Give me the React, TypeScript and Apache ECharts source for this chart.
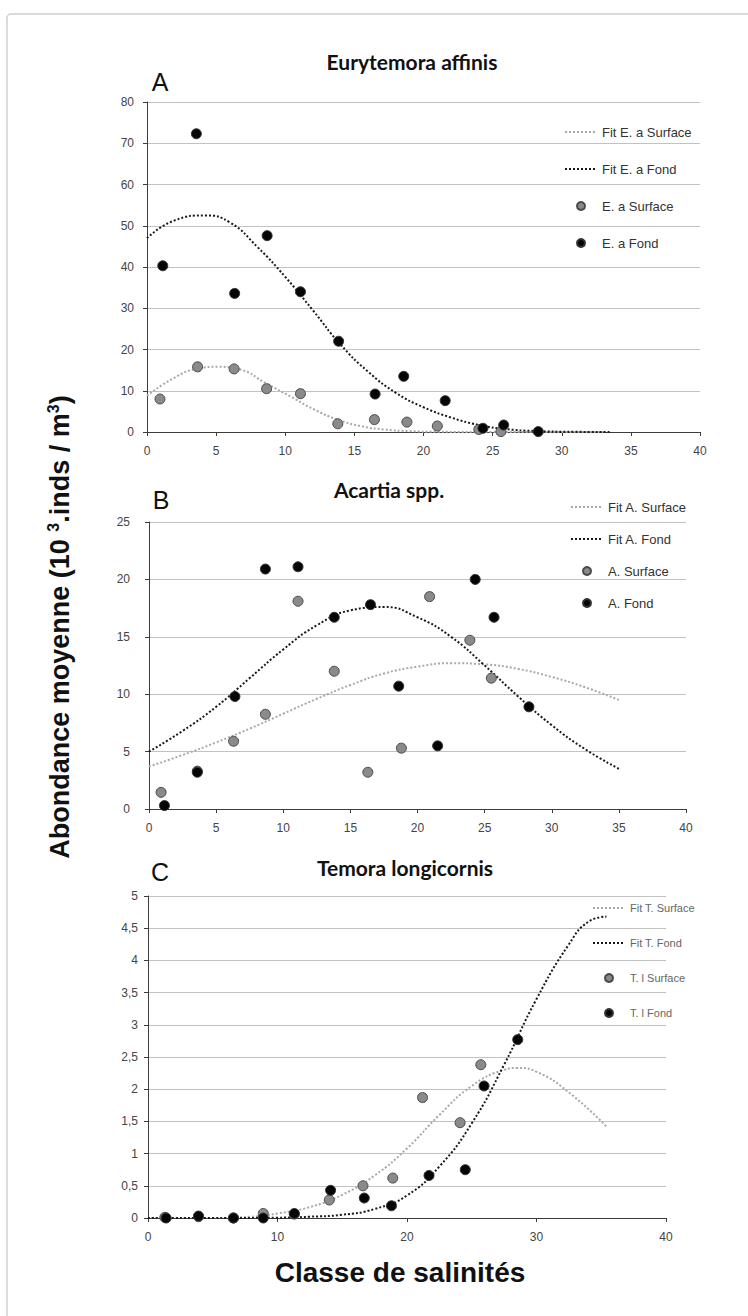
import React, { useEffect, useRef } from "react";
import * as echarts from "echarts";

// ---- Panel A : Eurytemora affinis ----
const salA_surf = [0.94, 3.66, 6.3, 8.65, 11.1, 13.8, 16.45, 18.8, 21.0, 24.0, 25.6];
const abA_surf = [8.0, 15.8, 15.3, 10.5, 9.3, 2.0, 3.0, 2.4, 1.45, 0.6, 0.1];
const salA_fond = [1.14, 3.57, 6.34, 8.69, 11.1, 13.86, 16.5, 18.57, 21.57, 24.3, 25.8, 28.3];
const abA_fond = [40.3, 72.3, 33.6, 47.6, 34.0, 22.0, 9.2, 13.5, 7.6, 0.9, 1.7, 0.1];
const fitA_surf_x = [0, 2, 3.6, 5.2, 6.7, 8.6, 10.5, 12, 13.8, 15.5, 17.2, 19, 21, 25, 30, 33];
const fitA_surf_y = [8.8, 13.2, 15.3, 15.8, 15.2, 11.8, 8.4, 5.6, 3.0, 1.4, 0.6, 0.2, 0.05, 0, 0, 0];
const fitA_fond_x = [0, 2, 4.2, 6, 8, 10, 12, 14, 16, 18, 20, 22, 24, 26, 28, 30.9, 33.5];
const fitA_fond_y = [47.0, 51.3, 52.5, 50.8, 44.8, 37.6, 29.5, 21.2, 14.6, 9.5, 6.0, 3.5, 1.7, 0.7, 0.25, 0.05, 0];

// ---- Panel B : Acartia spp. ----
const salB_surf = [0.9, 3.6, 6.3, 8.67, 11.1, 13.8, 16.3, 18.8, 20.9, 23.9, 25.5];
const abB_surf = [1.45, 3.3, 5.9, 8.25, 18.1, 12.0, 3.2, 5.3, 18.5, 14.7, 11.4];
const salB_fond = [1.15, 3.6, 6.4, 8.67, 11.1, 13.8, 16.5, 18.6, 21.5, 24.3, 25.7, 28.3];
const abB_fond = [0.3, 3.2, 9.8, 20.9, 21.1, 16.7, 17.8, 10.7, 5.5, 20.0, 16.7, 8.9];
const fitB_x = [0, 2.5, 5, 7.5, 10, 12.5, 15, 17.5, 20, 22.5, 25, 27.5, 30, 32.5, 35];
const fitB_surf_y = [3.7, 4.7, 5.8, 7.0, 8.3, 9.6, 10.8, 11.8, 12.4, 12.7, 12.6, 12.2, 11.5, 10.6, 9.5];
const fitB_fond_y = [5.0, 6.8, 8.9, 11.4, 13.9, 16.0, 17.3, 17.6, 16.7, 15.0, 12.5, 9.8, 7.3, 5.2, 3.5];

// ---- Panel C : Temora longicornis ----
const salC_surf = [1.3, 3.9, 6.6, 8.9, 11.3, 14.0, 16.6, 18.9, 21.2, 24.1, 25.7];
const abC_surf = [0.01, 0.02, 0.0, 0.07, 0.06, 0.28, 0.5, 0.62, 1.87, 1.48, 2.38];
const salC_fond = [1.4, 3.9, 6.6, 8.9, 11.3, 14.1, 16.7, 18.8, 21.7, 24.5, 25.95, 28.55];
const abC_fond = [0.0, 0.03, 0.0, 0.0, 0.07, 0.43, 0.31, 0.19, 0.66, 0.75, 2.05, 2.77];
const fitC_surf_x = [0, 5, 8, 10, 12.5, 15, 17.5, 20, 22.5, 25, 27.5, 28.5, 30, 32.5, 35.4];
const fitC_surf_y = [0, 0, 0.02, 0.07, 0.17, 0.36, 0.66, 1.08, 1.6, 2.05, 2.3, 2.33, 2.27, 1.95, 1.42];
const fitC_fond_x = [0, 5, 10, 12.5, 15, 17.5, 20, 22.5, 25, 27.5, 30, 32.5, 34, 35.4];
const fitC_fond_y = [0, 0, 0.005, 0.02, 0.05, 0.14, 0.35, 0.8, 1.47, 2.38, 3.4, 4.25, 4.6, 4.68];

const panelTitles = ["Eurytemora affinis", "Acartia spp.", "Temora longicornis"];
const panelLetters = ["A", "B", "C"];
const legendNames = [
  ["Fit E. a Surface", "Fit E. a Fond", "E. a Surface", "E. a Fond"],
  ["Fit A. Surface", "Fit A. Fond", "A. Surface", "A. Fond"],
  ["Fit T. Surface", "Fit T. Fond", "T. l Surface", "T. l Fond"],
];

const FONT = '"Liberation Sans", Arial, sans-serif';
const TITLE_FONT = 'Lato, "Open Sans", sans-serif';

const zip = (xs: number[], ys: number[]) => xs.map((x, i) => [x, ys[i]]);

const fitLine = (name: string, idx: number, xs: number[], ys: number[], color: string) => ({
  name,
  type: "line",
  xAxisIndex: idx,
  yAxisIndex: idx,
  data: zip(xs, ys),
  smooth: 0.5,
  symbol: "none",
  lineStyle: { color, width: 2, type: "dotted" },
  itemStyle: { color },
  z: 2,
});

const dots = (name: string, idx: number, xs: number[], ys: number[], fill: string, border: string) => ({
  name,
  type: "scatter",
  xAxisIndex: idx,
  yAxisIndex: idx,
  data: zip(xs, ys),
  symbol: "circle",
  symbolSize: 10,
  itemStyle: { color: fill, borderColor: border, borderWidth: 1, opacity: 1 },
  z: 3,
});

const GREY_FIT = "#a9a9a9";
const BLACK_FIT = "#1a1a1a";
const SURF_FILL = "#8a8a8a";
const SURF_EDGE = "#4a4a4a";
const FOND_FILL = "#050505";
const FOND_EDGE = "#333333";

const grids = [
  { left: 147, right: 48, top: 102, bottom: 884 },
  { left: 149, right: 62, top: 522, bottom: 507 },
  { left: 148, right: 82, top: 896, bottom: 98 },
];

const xIntervals = [5, 5, 10];
const yRanges = [
  { max: 80, interval: 10, margin: 13 },
  { max: 25, interval: 5, margin: 19 },
  { max: 5, interval: 0.5, margin: 10 },
];

const axisLineStyle = { color: "#3c3c3c", width: 1 };

const xAxes = xIntervals.map((interval, i) => ({
  type: "value",
  gridIndex: i,
  min: 0,
  max: 40,
  interval,
  axisLine: { show: true, lineStyle: axisLineStyle },
  axisTick: { show: true, length: 4, lineStyle: axisLineStyle },
  axisLabel: { color: "#444", fontSize: 12, fontFamily: FONT, margin: 13 },
  splitLine: { show: false },
}));

const yAxes = yRanges.map((r, i) => ({
  type: "value",
  gridIndex: i,
  min: 0,
  max: r.max,
  interval: r.interval,
  axisLine: { show: true, lineStyle: axisLineStyle },
  axisTick: { show: true, length: 4, lineStyle: axisLineStyle },
  axisLabel: {
    color: "#444",
    fontSize: 12,
    fontFamily: FONT,
    margin: r.margin,
    formatter: (v: number) => String(v).replace(".", ","),
  },
  splitLine: { show: true, lineStyle: { color: "#c2c2c2", width: 1 } },
}));

const legendLayout = [
  { left: 564, top: 125, gap: 23, fontSize: 13, lineHeight: 14, color: "#333" },
  { left: 570, top: 500, gap: 18, fontSize: 13, lineHeight: 14, color: "#333" },
  { left: 592, top: 902, gap: 23, fontSize: 11, lineHeight: 12, color: "#666" },
];

// Fit entries show only their dotted line in the legend (no centre marker)
const hiddenMarker = { color: "rgba(0,0,0,0)", borderColor: "rgba(0,0,0,0)", borderWidth: 0 };

const legends = legendNames.map((names, i) => ({
  data: names.map((n, k) => (k < 2 ? { name: n, itemStyle: hiddenMarker } : { name: n })),
  orient: "vertical",
  left: legendLayout[i].left,
  top: legendLayout[i].top,
  padding: 0,
  itemWidth: 32,
  itemHeight: 8,
  itemGap: legendLayout[i].gap,
  selectedMode: false,
  textStyle: {
    fontSize: legendLayout[i].fontSize,
    lineHeight: legendLayout[i].lineHeight,
    color: legendLayout[i].color,
    fontFamily: FONT,
  },
}));

const series = [
  fitLine(legendNames[0][0], 0, fitA_surf_x, fitA_surf_y, GREY_FIT),
  fitLine(legendNames[0][1], 0, fitA_fond_x, fitA_fond_y, BLACK_FIT),
  dots(legendNames[0][2], 0, salA_surf, abA_surf, SURF_FILL, SURF_EDGE),
  dots(legendNames[0][3], 0, salA_fond, abA_fond, FOND_FILL, FOND_EDGE),
  fitLine(legendNames[1][0], 1, fitB_x, fitB_surf_y, GREY_FIT),
  fitLine(legendNames[1][1], 1, fitB_x, fitB_fond_y, BLACK_FIT),
  dots(legendNames[1][2], 1, salB_surf, abB_surf, SURF_FILL, SURF_EDGE),
  dots(legendNames[1][3], 1, salB_fond, abB_fond, FOND_FILL, FOND_EDGE),
  fitLine(legendNames[2][0], 2, fitC_surf_x, fitC_surf_y, GREY_FIT),
  fitLine(legendNames[2][1], 2, fitC_fond_x, fitC_fond_y, BLACK_FIT),
  dots(legendNames[2][2], 2, salC_surf, abC_surf, SURF_FILL, SURF_EDGE),
  dots(legendNames[2][3], 2, salC_fond, abC_fond, FOND_FILL, FOND_EDGE),
];

// Title and letter placement for each panel
const titlePos = [
  { x: 412, y: 61 },
  { x: 389, y: 489 },
  { x: 405, y: 867 },
];
const letterPos = [
  { x: 160, y: 82 },
  { x: 161, y: 500 },
  { x: 160, y: 872 },
];

const graphics: any[] = [
  {
    type: "rect",
    shape: { x: 7, y: 14, width: 760, height: 1330, r: 4 },
    style: { fill: "none", stroke: "#cfcfcf", lineWidth: 1.5 },
    silent: true,
    z: -1,
  },
  ...panelTitles.map((t, i) => ({
    type: "text",
    x: titlePos[i].x,
    y: titlePos[i].y,
    style: {
      text: t,
      fontFamily: TITLE_FONT,
      fontWeight: "bold",
      fontSize: 21,
      fill: "#111",
      align: "center",
      verticalAlign: "middle",
    },
  })),
  ...panelLetters.map((t, i) => ({
    type: "text",
    x: letterPos[i].x,
    y: letterPos[i].y,
    style: {
      text: t,
      fontFamily: FONT,
      fontSize: 25,
      fill: "#111",
      align: "center",
      verticalAlign: "middle",
    },
  })),
  {
    type: "text",
    x: 60,
    y: 627,
    rotation: Math.PI / 2,
    style: {
      text: "{a|Abondance moyenne (10 }{s|3}{a|.inds / m}{s|3}{a|)}",
      align: "center",
      verticalAlign: "middle",
      rich: {
        a: { fontFamily: FONT, fontWeight: "bold", fontSize: 27, fill: "#111", lineHeight: 30 },
        s: { fontFamily: FONT, fontWeight: "bold", fontSize: 16, fill: "#111", lineHeight: 30, verticalAlign: "top" },
      },
    },
  },
  {
    type: "text",
    x: 400,
    y: 1272,
    style: {
      text: "Classe de salinités",
      fontFamily: FONT,
      fontWeight: "bold",
      fontSize: 28,
      fill: "#111",
      align: "center",
      verticalAlign: "middle",
    },
  },
];

const option = {
  animation: false,
  backgroundColor: "#ffffff",
  textStyle: { fontFamily: FONT },
  grid: grids,
  xAxis: xAxes,
  yAxis: yAxes,
  legend: legends,
  series,
  graphic: graphics,
};

export default function App() {
  const ref = useRef<HTMLDivElement>(null);
  useEffect(() => {
    const chart = echarts.init(ref.current!, null, { renderer: "svg" });
    chart.setOption(option as any);
    return () => chart.dispose();
  }, []);
  return (
    <div
      ref={ref}
      style={{ position: "absolute", left: 0, top: 0, width: 748, height: 1316, background: "#fff" }}
    />
  );
}
